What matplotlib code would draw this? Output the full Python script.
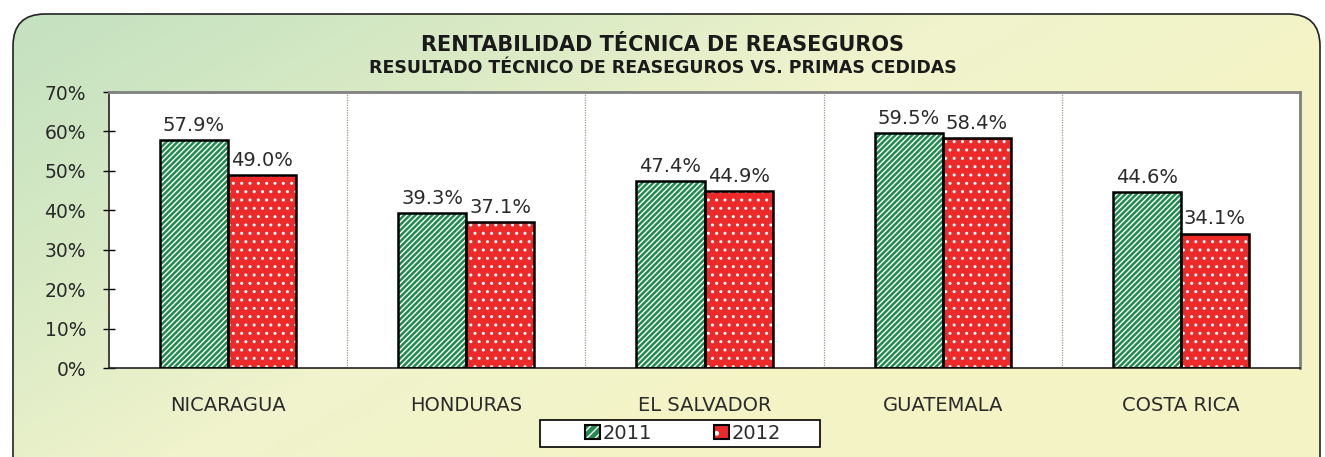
import matplotlib
matplotlib.use("Agg")
import matplotlib.pyplot as plt
import numpy as np
from matplotlib.patches import FancyBboxPatch, Patch, Rectangle
from matplotlib.colors import LinearSegmentedColormap
from matplotlib.legend_handler import HandlerTuple

plt.rcParams['font.family'] = ['DejaVu Sans']

categories = ["NICARAGUA", "HONDURAS", "EL SALVADOR", "GUATEMALA", "COSTA RICA"]
series_names = ["2011", "2012"]
values_2011 = [57.9, 39.3, 47.4, 59.5, 44.6]
values_2012 = [49.0, 37.1, 44.9, 58.4, 34.1]
yticks = [0, 10, 20, 30, 40, 50, 60, 70]

W, H = 1325, 457
fig = plt.figure(figsize=(W/100, H/100), dpi=100)
fig.patch.set_facecolor('white')

# background rounded box with gradient
bg = fig.add_axes([0, 0, 1, 1])
bg.set_xlim(0, W); bg.set_ylim(H, 0); bg.axis('off')
box = FancyBboxPatch((13, 14), 1307, 480, boxstyle="round,pad=0,rounding_size=32",
                     facecolor='none', edgecolor='#222222', lw=1.2, zorder=3)
bg.add_patch(box)
cmap = LinearSegmentedColormap.from_list('g', ['#c2e0c0', '#d6e9c4', '#f0f3cc', '#f4f3c6'])
xx, yy = np.meshgrid(np.linspace(0, 1, 300), np.linspace(0, 1, 100))
grad = np.clip(xx * 0.9 + yy * 0.55, 0, 1)
im = bg.imshow(grad, cmap=cmap, extent=(0, W, H, 0), aspect='auto', zorder=1)
im.set_clip_path(box)
# legend frame
bg.add_patch(Rectangle((540, 420), 280, 27, facecolor='white', edgecolor='black', lw=1.2, zorder=4))

ax = fig.add_axes([109/W, 1 - 368/H, (1300-109)/W, (368-92)/H])
ax.set_facecolor('white')
x = np.arange(len(categories))
bw = 0.286
g = '#218a4e'
r = '#ec2a2a'
ax.bar(x - bw/2, values_2011, bw, color=g, hatch='//////', edgecolor='white', lw=0, zorder=2)
ax.bar(x - bw/2, values_2011, bw, fill=False, edgecolor='black', lw=1.8, zorder=3)
ax.bar(x + bw/2, values_2012, bw, color=r, hatch='..', edgecolor='white', lw=0, zorder=2)
ax.bar(x + bw/2, values_2012, bw, fill=False, edgecolor='black', lw=1.8, zorder=3)

txtc = '#2a2a2a'
for xi, v in zip(x - bw/2, values_2011):
    ax.text(xi, v + 1.3, f"{v:.1f}%", ha='center', va='bottom', fontsize=14, color=txtc)
for xi, v in zip(x + bw/2, values_2012):
    ax.text(xi, v + 1.3, f"{v:.1f}%", ha='center', va='bottom', fontsize=14, color=txtc)

for b in range(1, len(categories)):
    ax.axvline(b - 0.5, color='#a09a80', ls=(0, (1, 1)), lw=0.9, zorder=1)

ax.set_xlim(-0.5, len(categories) - 0.5)
ax.set_ylim(0, 70)
ax.set_yticks(yticks)
ax.set_yticklabels([f"{t}%" for t in yticks], fontsize=13.5, color=txtc)
ax.set_xticks(x)
ax.set_xticklabels(categories, fontsize=14, color=txtc)
ax.tick_params(axis='x', length=0, pad=20)
ax.tick_params(axis='y', direction='inout', length=9, width=1, pad=12)
for s in ['top', 'right']:
    ax.spines[s].set_color('#808080'); ax.spines[s].set_linewidth(2)
for s in ['left', 'bottom']:
    ax.spines[s].set_color('#222222'); ax.spines[s].set_linewidth(1.2)

fig.text(0.5, 1 - 45/H, "RENTABILIDAD TÉCNICA DE REASEGUROS", ha='center', va='center',
         fontsize=15, fontweight='bold', color='#1a1a1a')
fig.text(0.5, 1 - 68/H, "RESULTADO TÉCNICO DE REASEGUROS VS. PRIMAS CEDIDAS", ha='center', va='center',
         fontsize=12.5, fontweight='bold', color='#1a1a1a')

h1 = (Patch(facecolor=g, hatch='////', edgecolor='white', lw=0), Patch(fill=False, edgecolor='black', lw=1.5))
h2 = (Patch(facecolor=r, hatch='.', edgecolor='white', lw=0), Patch(fill=False, edgecolor='black', lw=1.5))
leg = fig.legend([h1, h2], series_names, loc='center', bbox_to_anchor=(683/W, 1 - 433.5/H),
                 ncol=2, fontsize=14, frameon=False,
                 handler_map={tuple: HandlerTuple(ndivide=1, pad=0)},
                 handlelength=0.75, handleheight=0.75, handletextpad=0.15, columnspacing=3.2,
                 borderpad=0.2, borderaxespad=0)
leg.set_zorder(5)
for t in leg.get_texts():
    t.set_color(txtc)

fig.savefig("out.png", dpi=100, facecolor=fig.get_facecolor())
